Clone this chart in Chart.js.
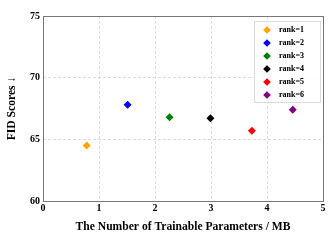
<!DOCTYPE html>
<html>
<head>
<meta charset="utf-8">
<script src="https://cdn.jsdelivr.net/npm/chart.js@4/dist/chart.umd.min.js"></script>
<style>
html,body{margin:0;padding:0;background:#fff;}
#wrap{width:331px;height:240px;}
</style>
</head>
<body>
<div id="wrap"><canvas id="c" width="331" height="240"></canvas></div>
<script>
const seriesNames = ['rank=1','rank=2','rank=3','rank=4','rank=5','rank=6'];
const paramsMB = [0.78, 1.51, 2.26, 2.99, 3.73, 4.46];
const fidScores = [64.5, 67.8, 66.8, 66.7, 65.7, 67.4];
const colors = ['#FFA500','#0000FF','#008000','#000000','#FF0000','#800080'];
const xTicks = [0,1,2,3,4,5];
const yTicks = [60,65,70,75];

const FONT = "'Liberation Serif','Times New Roman',serif";

function diamondIcon(color){
  const c = document.createElement('canvas');
  c.width = 16; c.height = 8;
  const g = c.getContext('2d');
  g.fillStyle = color;
  g.beginPath();
  g.moveTo(8-3.8,4); g.lineTo(8,4-3.8); g.lineTo(8+3.8,4); g.lineTo(8,4+3.8);
  g.closePath(); g.fill();
  return c;
}

const datasets = seriesNames.map((n,i)=>({
  label: n,
  data: [{x: paramsMB[i], y: fidScores[i]}],
  backgroundColor: colors[i],
  borderColor: colors[i],
  pointStyle: 'rectRot',
  pointRadius: 4,
  pointBorderWidth: 0,
  pointHoverRadius: 4
}));

const framePlugin = {
  id: 'frame',
  afterLayout(chart){
    const lg = chart.legend;
    if(!lg) return;
    const ca = chart.chartArea;
    lg.left = ca.right - 69;
    lg.right = lg.left + 66;
    lg.top = ca.top + 5;
    lg.bottom = ca.bottom;
  },
  afterDraw(chart){
    const ctx = chart.ctx, ca = chart.chartArea;
    const lg = chart.legend;
    ctx.save();
    ctx.strokeStyle = '#777';
    ctx.lineWidth = 1;
    ctx.strokeRect(Math.round(ca.left)+0.5, Math.round(ca.top)+0.5, Math.round(ca.right-ca.left), Math.round(ca.bottom-ca.top));
    if(lg){
      const L = Math.round(lg.left), T = Math.round(lg.top);
      ctx.fillStyle = 'rgba(255,255,255,0.85)';
      ctx.fillRect(L, T, 66, 81);
      ctx.strokeStyle = '#dcdcdc';
      ctx.strokeRect(L+0.5, T+0.5, 66, 81);
    }
    ctx.restore();
    if(lg) lg.draw(chart.chartArea);
  }
};

new Chart(document.getElementById('c'), {
  type: 'scatter',
  data: { datasets },
  options: {
    responsive: false,
    animation: false,
    layout: { padding: { left: 0, right: 8, top: 16, bottom: 0 } },
    plugins: {
      legend: {
        display: true,
        position: 'chartArea',
        align: 'start',
        labels: {
          usePointStyle: true,
          pointStyleWidth: 16,
          boxWidth: 16,
          boxHeight: 8,
          padding: 5,
          color: '#000',
          font: { family: FONT, size: 8, weight: 'bold' },
          generateLabels(chart){
            return chart.data.datasets.map((ds,i)=>({
              text: ds.label,
              fillStyle: colors[i],
              strokeStyle: colors[i],
              fontColor: '#000',
              lineWidth: 0,
              pointStyle: diamondIcon(colors[i]),
              hidden: false,
              datasetIndex: i
            }));
          }
        }
      },
      tooltip: { enabled: false }
    },
    scales: {
      x: {
        type: 'linear',
        min: 0, max: 5,
        afterFit(s){ s.height = 39; },
        afterBuildTicks(s){ s.ticks = xTicks.map(v=>({value:v})); },
        grid: { color: '#dddddd', drawTicks: false, lineWidth: 1 },
        border: { display: false, dash: [3,2] },
        ticks: { padding: 1, color: '#000', font: { family: FONT, size: 10, weight: 'bold' } },
        title: { display: true, text: 'The Number of Trainable Parameters / MB', color: '#000',
                 font: { family: FONT, size: 11.6, weight: 'bold' }, padding: { top: 2, bottom: 6 } }
      },
      y: {
        type: 'linear',
        min: 60, max: 75,
        afterFit(s){ s.width = 43; },
        afterBuildTicks(s){ s.ticks = yTicks.map(v=>({value:v})); },
        grid: { color: '#dddddd', drawTicks: false, lineWidth: 1 },
        border: { display: false, dash: [3,2] },
        ticks: { padding: 3, color: '#000', font: { family: FONT, size: 10, weight: 'bold' } },
        title: { display: true, text: 'FID Scores ↓', color: '#000',
                 font: { family: FONT, size: 11.6, weight: 'bold' }, padding: { top: 5, bottom: 2 } }
      }
    }
  },
  plugins: [framePlugin]
});
</script>
</body>
</html>
